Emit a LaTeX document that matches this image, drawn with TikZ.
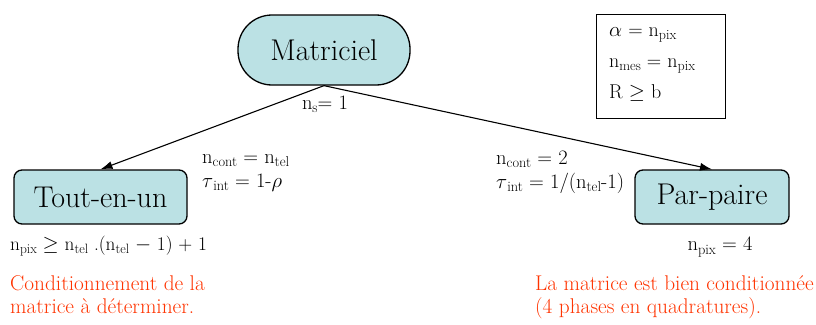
\documentclass[tikz,border=0pt]{standalone}
\usetikzlibrary{arrows.meta,positioning}
\definecolor{boxfill}{RGB}{187,225,228}
\definecolor{noteRed}{RGB}{255,51,0}
\newcommand{\ix}[1]{\raisebox{-0.35ex}{\scalebox{0.7}{#1}}}

\begin{document}
\begin{tikzpicture}[x=1pt,y=-1pt]
  \tikzset{
    block/.style={draw, line width=1.3pt, fill=boxfill, rounded corners=8pt, minimum height=54pt, inner sep=0pt, font=\fontsize{30}{33}\selectfont},
    flow/.style={-{Latex[length=12pt,width=8pt]}, line width=1.1pt},
    formula/.style={inner sep=0pt, align=left, font=\fontsize{20.5}{24}\selectfont},
    note/.style={formula, text=noteRed, font=\fontsize{21.3}{23}\selectfont}
  }
  \useasboundingbox (0,0) rectangle (816,324);

  \node[block, rounded corners=34pt, minimum width=172pt, minimum height=70pt] (matriciel) at (324,50) {Matriciel};
  \node[block, minimum width=173pt] (tout) at (100.5,197) {Tout-en-un};
  \node[block, minimum width=154pt] (paire) at (712,197) {Par-paire};

  \draw[flow] (matriciel.south) -- (tout.north);
  \draw[flow] (matriciel.south) -- (paire.north);

  \node[formula] (ns) at (325,104) {n\ix{s}= 1};
  \node[formula, anchor=north west] (toutlink) at (202,154) {n\ix{cont} = n\ix{tel}\\ $\tau$\ix{int} = 1-$\rho$};
  \node[formula, anchor=north west] (pairelink) at (496,151) {n\ix{cont} = 2\\ $\tau$\ix{int} = 1/(n\ix{tel}-1)};

  \node[draw, line width=1.2pt, minimum width=129pt, minimum height=104pt, anchor=north west] (legend) at (596,14) {};
  \node[formula, anchor=north west, font=\fontsize{20}{31}\selectfont] (legendtext) at (609,27) {$\alpha$ = n\ix{pix}\\ n\ix{mes} = n\ix{pix}\\ R $\geq$ b};

  \node[formula, anchor=west, font=\fontsize{19.3}{24}\selectfont] (toutpix) at (10,246) {n\ix{pix} $\geq$ n\ix{tel} .(n\ix{tel} $-$ 1) + 1};
  \node[note, anchor=north west] (toutnote) at (10,275) {Conditionnement de la\\ matrice à déterminer.};
  \node[formula] (pairepix) at (720,247) {n\ix{pix} = 4};
  \node[note, anchor=north west] (pairenote) at (535,275) {La matrice est bien conditionnée\\ (4 phases en quadratures).};
\end{tikzpicture}
\end{document}
